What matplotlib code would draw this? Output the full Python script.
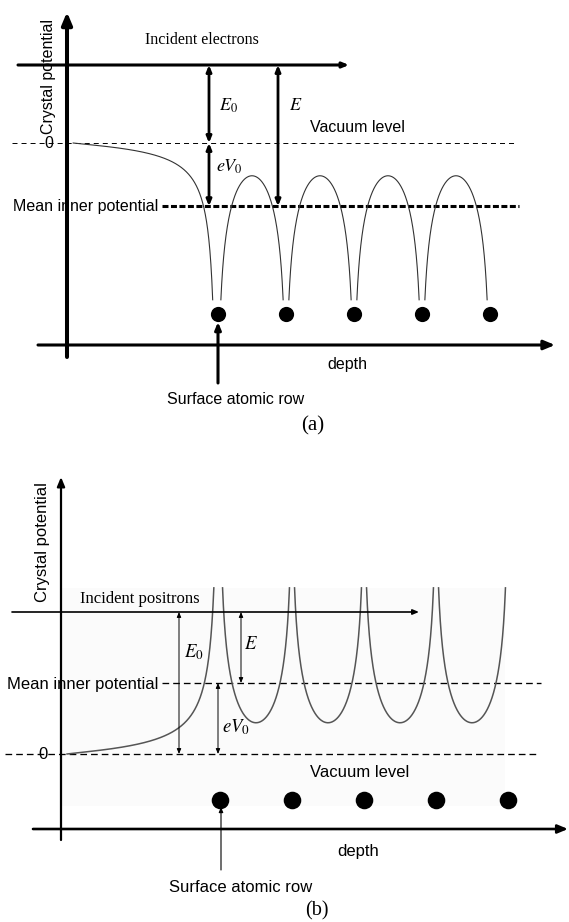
import numpy as np
import matplotlib.pyplot as plt

plt.rcParams['mathtext.fontset'] = 'stix'
plt.rcParams['lines.scale_dashes'] = False

SANS = 'Liberation Sans'
SERIF = 'Liberation Serif'
W, H = 569, 922

# energies in units of E0 (incident level = 1, vacuum level = 0),
# depths in units of the atomic-row spacing (surface row at 0)
rows = [0, 1, 2, 3, 4]

# (a) electrons: attractive wells at the rows
incident_a = 1.0
inner_a = -0.81        # mean inner potential (-eV0)
arch_top_a = -0.42     # maximum between two rows
arch_cross_a = 0.20    # distance from a row where the arch meets the inner level
floor_a = -2.01        # wells drawn down to here
tail_a = (-2.13, -0.238, 0.85)   # start, strength, exponent of surface tail

# (b) positrons: repulsive walls at the rows
incident_b = 1.0
inner_b = 0.50
trough_b = 0.22
trough_cross_b = 0.167
ceil_b = 1.17
tail_b = (-2.125, 0.15, 0.85)

fig = plt.figure(figsize=(W / 100, H / 100), dpi=100)


def make_panel(top, bottom, x0, y0, sx, sy):
    ax = fig.add_axes([0, 1 - bottom / H, 1, (bottom - top) / H])
    ax.set_xlim(-x0 / sx, (W - x0) / sx)
    ax.set_ylim((y0 - bottom) / sy, (y0 - top) / sy)
    ax.axis('off')
    px = lambda x: (x - x0) / sx
    py = lambda y: (y0 - y) / sy
    return ax, px, py


def arrow(ax, start, end, lw, ms, style='-|>'):
    ax.annotate('', xy=end, xytext=start,
                arrowprops=dict(arrowstyle=style + ',head_length=0.6,head_width=0.25',
                                lw=lw, color='k', mutation_scale=ms,
                                shrinkA=0, shrinkB=0))


def label(x, y, s, size=11.5, family=SANS, **kw):
    fig.text(x / W, 1 - y / H, s, fontsize=size, family=family, **kw)


def g(d):
    return -np.log(d) - np.log(1 - d)


def row_potential(ax, top, cross, inner, cut, color, lw):
    k = (inner - top) / (g(cross) - g(0.5))
    c = top - k * g(0.5)
    gc = (cut - c) / k
    dc = (1 - np.sqrt(1 - 4 * np.exp(-gc))) / 2
    t = np.linspace(0, 1, 400)
    d = dc + (1 - 2 * dc) * (1 - np.cos(np.pi * t)) / 2
    for r in rows[:-1]:
        ax.plot(r + d, c + k * g(d), color=color, lw=lw)


def surface_tail(ax, tail, cut, color, lw):
    start, a, q = tail
    xc = 1 / ((cut / a) ** (1 / q) + 1 / abs(start))
    dist = np.geomspace(xc, abs(start), 400)
    v = a * np.clip(1 / dist - 1 / abs(start), 0, None) ** q
    ax.plot(-dist, v, color=color, lw=lw)


# ---------------- (a) ----------------
ax, px, py = make_panel(0, 460, 218, 143, 68, 78)

arrow(ax, (px(67), py(357)), (px(67), py(12)), 2.9, 12)
arrow(ax, (px(38), py(345)), (px(555), py(345)), 2.2, 11)
arrow(ax, (px(18), incident_a), (px(349), incident_a), 2.2, 6)
ax.plot([px(12), px(517)], [0, 0], color='k', lw=0.7, dashes=(3.6, 2.9))
ax.plot([px(162), px(519)], [inner_a, inner_a], color='k', lw=2.2, dashes=(4.3, 1.8))

arrow(ax, (px(209), 0), (px(209), incident_a), 2.0, 6, '<|-|>')
arrow(ax, (px(209), inner_a), (px(209), 0), 2.0, 6, '<|-|>')
arrow(ax, (px(278), inner_a), (px(278), incident_a), 2.0, 6, '<|-|>')

surface_tail(ax, tail_a, floor_a, '#333333', 0.8)
row_potential(ax, arch_top_a, arch_cross_a, inner_a, floor_a, '#333333', 0.8)
ax.scatter(rows, [py(314)] * len(rows), s=120, color='k', zorder=3, linewidths=0)
arrow(ax, (0, py(383)), (0, py(322)), 2.2, 7)

label(48, 76, 'Crystal potential', rotation=90, ha='center', va='center')
label(202, 40, 'Incident electrons', family=SERIF, ha='center', va='center')
label(49, 143, '0', ha='center', va='center')
label(310, 128, 'Vacuum level', ha='left', va='center')
label(158, 206, 'Mean inner potential', ha='right', va='center')
label(219, 106, r'$E_0$', size=13, ha='left', va='center')
label(289, 106, r'$E$', size=13, ha='left', va='center')
label(216, 167, r'$eV_0$', size=13, ha='left', va='center')
label(347, 364, 'depth', ha='center', va='center')
label(236, 399, 'Surface atomic row', ha='center', va='center')
label(313, 426, '(a)', size=15, family=SERIF, ha='center', va='center')

# ---------------- (b) ----------------
ax, px, py = make_panel(460, 922, 220, 754, 72, 142)

ax.add_patch(plt.Rectangle((px(62), py(806)), px(505) - px(62), py(588) - py(806),
                           color='#fbfbfb', lw=0, zorder=0))
arrow(ax, (px(61), py(840)), (px(61), py(477)), 1.6, 9)
arrow(ax, (px(33), py(829)), (px(568), py(829)), 1.9, 10)
arrow(ax, (px(12), incident_b), (px(419), incident_b), 1.2, 6)
ax.plot([px(162), px(541)], [inner_b, inner_b], color='k', lw=0.95, dashes=(4.8, 2.9))
ax.plot([px(5), px(539)], [0, 0], color='k', lw=0.95, dashes=(4.8, 2.9))

arrow(ax, (px(179), 0), (px(179), incident_b), 0.7, 5, '<|-|>')
arrow(ax, (px(241), inner_b), (px(241), incident_b), 0.7, 5, '<|-|>')
arrow(ax, (px(218), 0), (px(218), inner_b), 0.7, 5, '<|-|>')

surface_tail(ax, tail_b, ceil_b, '#555555', 1.1)
row_potential(ax, trough_b, trough_cross_b, inner_b, ceil_b, '#555555', 1.1)
ax.scatter(rows, [py(800)] * len(rows), s=160, color='k', zorder=3, linewidths=0)
arrow(ax, (px(221), py(870)), (px(221), py(807)), 0.8, 5)

label(42, 542, 'Crystal potential', size=12, rotation=90, ha='center', va='center')
label(80, 599, 'Incident positrons', size=12, family=SERIF, ha='left', va='center')
label(43, 754, '0', size=12, ha='center', va='center')
label(158, 684, 'Mean inner potential', size=12, ha='right', va='center')
label(184, 652, r'$E_0$', size=13.5, ha='left', va='center')
label(244, 644, r'$E$', size=13.5, ha='left', va='center')
label(222, 727, r'$eV_0$', size=13.5, ha='left', va='center')
label(360, 772, 'Vacuum level', size=12, ha='center', va='center')
label(358, 851, 'depth', size=12, ha='center', va='center')
label(241, 887, 'Surface atomic row', size=12, ha='center', va='center')
label(317, 911, '(b)', size=14.5, family=SERIF, ha='center', va='center')

fig.savefig('out.png', dpi=100)
